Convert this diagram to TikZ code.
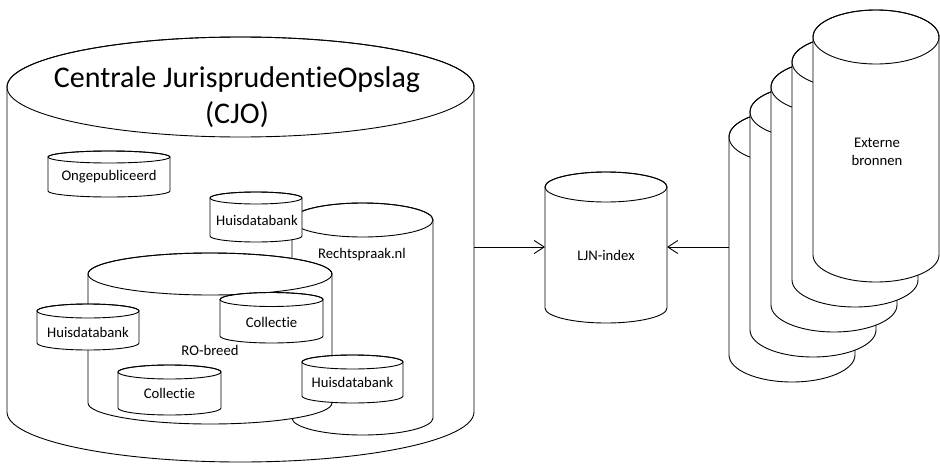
\documentclass[tikz,border=0pt]{standalone}
\usepackage{fontspec}
\setmainfont{Carlito}[Ligatures=NoCommon]
\usetikzlibrary{arrows.meta}

\begin{document}
\begin{tikzpicture}[x=1pt,y=-1pt,line width=0.9pt,
  dbtext/.style={font=\fontsize{14.7}{18}\selectfont,align=center,inner sep=0pt},
  feed/.style={-{Straight Barb[length=10pt,width=13pt]}}]

\useasboundingbox (0,0) rectangle (940,466);

% cylinder: centre x, top y, bottom y, x radius, y radius
\def\dbcyl#1#2#3#4#5{
  \filldraw[fill=white] ({#1-#4},#2) -- ({#1-#4},#3)
    arc[start angle=180,end angle=0,x radius=#4,y radius=#5]
    -- ({#1+#4},#2)
    arc[start angle=360,end angle=180,x radius=#4,y radius=#5] -- cycle;
  \draw (#1,#2) ellipse[x radius=#4,y radius=#5];
}

% central store
\dbcyl{240.5}{87}{412}{233.5}{50}
\node[font=\fontsize{30}{36.6}\selectfont,align=center] (cjo) at (237,97)
  {Centrale JurisprudentieOpslag\\(CJO)};

\dbcyl{109}{157}{191}{61}{6}
\node[dbtext] (onge) at (109,177) {Ongepubliceerd};

\dbcyl{362.5}{220}{418}{70.5}{17}
\dbcyl{256}{198}{236}{46}{6}
\node[dbtext] (huis1) at (257,220) {Huisdatabank};

\dbcyl{210}{274}{403}{122}{21}
\node[dbtext] (rspr) at (362,255) {Rechtspraak.nl};
\node[dbtext] (ro) at (210,350) {RO-breed};

\dbcyl{88}{311}{343}{51}{7}
\node[dbtext] (huis2) at (88,332) {Huisdatabank};
\dbcyl{271.5}{299.5}{336}{51.5}{7}
\node[dbtext] (coll1) at (271.5,322) {Collectie};
\dbcyl{169.5}{372}{408}{51.5}{7}
\node[dbtext] (coll2) at (169.5,393) {Collectie};
\dbcyl{352.5}{362}{396}{50.5}{7}
\node[dbtext] (huis3) at (352.5,382) {Huisdatabank};

% index
\dbcyl{606}{187}{308}{61}{15}
\node[dbtext] (ljn) at (606,255) {LJN-index};

% external sources
\foreach \i in {4,3,2,1,0}
  {\dbcyl{876-21*\i}{37+25*\i}{255+25*\i}{63}{27}}
\node[dbtext] (ext) at (877,152) {Externe\\bronnen};

\coordinate (cjo east) at (474,247);
\coordinate (ljn west) at (545,247);
\coordinate (ljn east) at (667,247);
\coordinate (ext west) at (729,247);
\draw[feed] (cjo east) -- (ljn west);
\draw[feed] (ext west) -- (ljn east);

\end{tikzpicture}
\end{document}
